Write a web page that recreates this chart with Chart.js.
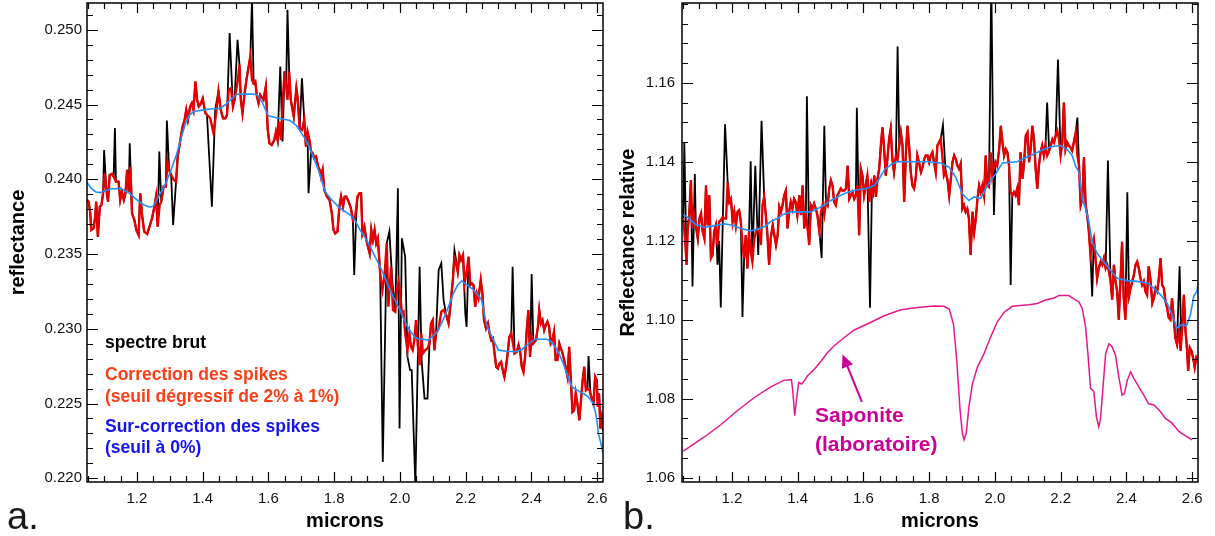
<!DOCTYPE html>
<html>
<head>
<meta charset="utf-8">
<script src="https://cdn.jsdelivr.net/npm/chart.js@4.4.1/dist/chart.umd.min.js"></script>
<style>
  html, body { margin: 0; padding: 0; background: #fff; }
  #wrap { position: relative; width: 1215px; height: 536px; overflow: hidden; }
  canvas { position: absolute; top: 0; }
  #panelA { left: 0; }
  #panelB { left: 607px; }
</style>
</head>
<body>
<div id="wrap">
  <canvas id="panelA" width="607" height="536"></canvas>
  <canvas id="panelB" width="608" height="536"></canvas>
</div>
<script>
// axes
const xTicks = [1.2, 1.4, 1.6, 1.8, 2.0, 2.2, 2.4, 2.6];
const yTicksA = [0.220, 0.225, 0.230, 0.235, 0.240, 0.245, 0.250];
const yTicksB = [1.06, 1.08, 1.10, 1.12, 1.14, 1.16];

// panneau a : [microns, reflectance]
const brutA = [
  [1.048,0.23862],[1.053,0.23850],[1.058,0.23772],[1.061,0.23661],[1.068,0.23672],[1.073,0.23750],[1.076,0.23850],[1.081,0.23616],[1.087,0.23817],[1.092,0.23828],
  [1.097,0.23906],[1.100,0.24196],[1.107,0.23929],[1.112,0.23850],[1.117,0.24029],[1.124,0.24036],[1.129,0.24018],[1.133,0.24342],[1.136,0.23984],[1.144,0.23984],
  [1.149,0.23862],[1.154,0.23917],[1.160,0.23862],[1.165,0.23906],[1.170,0.24063],[1.175,0.23917],[1.178,0.24241],[1.185,0.23772],[1.192,0.23728],[1.198,0.23661],
  [1.205,0.23627],[1.210,0.23906],[1.215,0.23772],[1.222,0.23650],[1.231,0.23634],[1.238,0.23683],[1.246,0.23739],[1.253,0.23817],[1.258,0.23884],[1.263,0.23683],
  [1.268,0.24185],[1.274,0.23850],[1.281,0.23951],[1.288,0.23951],[1.291,0.24393],[1.298,0.24063],[1.304,0.24029],[1.310,0.23694],[1.319,0.23984],[1.324,0.24152],
  [1.332,0.24263],[1.339,0.24353],[1.345,0.24397],[1.350,0.24464],[1.355,0.24397],[1.362,0.24487],[1.367,0.24509],[1.372,0.24464],[1.378,0.24654],[1.383,0.24531],
  [1.388,0.24487],[1.393,0.24500],[1.400,0.24540],[1.408,0.24442],[1.413,0.24431],[1.428,0.23817],[1.438,0.24464],[1.448,0.24587],[1.455,0.24464],[1.462,0.24408],
  [1.469,0.24408],[1.474,0.24431],[1.482,0.24978],[1.492,0.24487],[1.497,0.24531],[1.506,0.24933],[1.512,0.24766],[1.516,0.24531],[1.521,0.24442],[1.527,0.24565],
  [1.533,0.24665],[1.538,0.24732],[1.545,0.24821],[1.550,0.25200],[1.555,0.24643],[1.560,0.24654],[1.565,0.24554],[1.570,0.24509],[1.575,0.24565],[1.585,0.24531],
  [1.592,0.24620],[1.598,0.24330],[1.603,0.24241],[1.610,0.24230],[1.618,0.24263],[1.623,0.24319],[1.628,0.24263],[1.636,0.24754],[1.643,0.24252],[1.649,0.24721],
  [1.654,0.24620],[1.658,0.25134],[1.663,0.24721],[1.668,0.24531],[1.677,0.24420],[1.685,0.24609],[1.689,0.24542],[1.695,0.24342],[1.702,0.24676],[1.709,0.24397],
  [1.714,0.24219],[1.719,0.24319],[1.722,0.23906],[1.730,0.24185],[1.735,0.24174],[1.739,0.24141],[1.745,0.24152],[1.751,0.24085],[1.756,0.24063],[1.760,0.24018],
  [1.765,0.24063],[1.770,0.23929],[1.778,0.23884],[1.786,0.23862],[1.793,0.23772],[1.798,0.23661],[1.803,0.23638],[1.810,0.23650],[1.816,0.23817],[1.821,0.23884],
  [1.827,0.23817],[1.832,0.23884],[1.837,0.23884],[1.844,0.23850],[1.851,0.23806],[1.857,0.23728],[1.861,0.23359],[1.867,0.23750],[1.871,0.23884],[1.877,0.23906],
  [1.882,0.23906],[1.886,0.23638],[1.892,0.23683],[1.898,0.23594],[1.903,0.23549],[1.908,0.23504],[1.913,0.23661],[1.918,0.23594],[1.923,0.23661],[1.928,0.23571],
  [1.933,0.23605],[1.940,0.23371],[1.948,0.22109],[1.960,0.23571],[1.968,0.23650],[1.977,0.23315],[1.986,0.23114],[1.994,0.23940],[1.999,0.22333],[2.006,0.23605],
  [2.016,0.23482],[2.023,0.22813],[2.031,0.22723],[2.036,0.22723],[2.047,0.21950],[2.060,0.23415],[2.066,0.22790],[2.075,0.22533],[2.084,0.22533],[2.090,0.22902],
  [2.095,0.23036],[2.100,0.23058],[2.105,0.22857],[2.110,0.22969],[2.118,0.23393],[2.126,0.23438],[2.133,0.23192],[2.141,0.23092],[2.148,0.23036],[2.155,0.23181],
  [2.161,0.23326],[2.166,0.23527],[2.171,0.23460],[2.176,0.23382],[2.181,0.23493],[2.186,0.23460],[2.192,0.23493],[2.199,0.23103],[2.203,0.23013],[2.209,0.23482],
  [2.214,0.23292],[2.219,0.23304],[2.224,0.23292],[2.229,0.23147],[2.234,0.23237],[2.239,0.23203],[2.246,0.23326],[2.251,0.23237],[2.256,0.23058],[2.262,0.23002],
  [2.268,0.23036],[2.273,0.22969],[2.278,0.22924],[2.283,0.22935],[2.288,0.22835],[2.293,0.22746],[2.298,0.22734],[2.303,0.22768],[2.308,0.22779],[2.313,0.22723],
  [2.318,0.22679],[2.323,0.22746],[2.328,0.22835],[2.333,0.22946],[2.339,0.22969],[2.343,0.23415],[2.349,0.22835],[2.356,0.22846],[2.361,0.22891],[2.366,0.22846],
  [2.371,0.22746],[2.376,0.22712],[2.381,0.22813],[2.386,0.22991],[2.391,0.23125],[2.396,0.22813],[2.401,0.23366],[2.406,0.22902],[2.414,0.22924],[2.420,0.23013],
  [2.424,0.23125],[2.429,0.23036],[2.434,0.23058],[2.439,0.22991],[2.444,0.23025],[2.449,0.23047],[2.454,0.23013],[2.459,0.22902],[2.464,0.22924],[2.469,0.22980],
  [2.474,0.22790],[2.479,0.22790],[2.485,0.22902],[2.490,0.22868],[2.495,0.22835],[2.500,0.22790],[2.505,0.22734],[2.510,0.22679],[2.515,0.22879],[2.520,0.22668],
  [2.525,0.22444],[2.530,0.22455],[2.535,0.22567],[2.540,0.22500],[2.546,0.22388],[2.551,0.22522],[2.556,0.22656],[2.561,0.22746],[2.566,0.22589],[2.571,0.22600],
  [2.574,0.22817],[2.580,0.22560],[2.584,0.22533],[2.589,0.22500],[2.594,0.22679],[2.599,0.22656],[2.602,0.22478],[2.606,0.22567],[2.610,0.22333],[2.614,0.22400],
  [2.618,0.22321]
];

const corrA = [
  [1.048,0.23862],[1.053,0.23850],[1.058,0.23772],[1.061,0.23661],[1.068,0.23672],[1.073,0.23750],[1.076,0.23850],[1.081,0.23616],[1.087,0.23817],[1.092,0.23828],
  [1.097,0.23906],[1.102,0.24040],[1.107,0.23929],[1.112,0.23850],[1.117,0.24029],[1.124,0.24036],[1.129,0.24018],[1.136,0.23984],[1.144,0.23984],[1.149,0.23862],
  [1.154,0.23917],[1.160,0.23862],[1.165,0.23906],[1.170,0.24063],[1.175,0.23917],[1.180,0.24085],[1.185,0.23772],[1.192,0.23728],[1.198,0.23661],[1.205,0.23627],
  [1.210,0.23906],[1.215,0.23772],[1.222,0.23650],[1.231,0.23634],[1.238,0.23683],[1.246,0.23739],[1.253,0.23817],[1.258,0.23884],[1.263,0.23683],[1.269,0.23828],
  [1.274,0.23850],[1.281,0.23951],[1.288,0.23951],[1.293,0.24118],[1.298,0.24063],[1.304,0.24029],[1.312,0.23996],[1.319,0.23984],[1.324,0.24152],[1.332,0.24263],
  [1.339,0.24353],[1.345,0.24397],[1.350,0.24464],[1.355,0.24397],[1.362,0.24487],[1.367,0.24509],[1.372,0.24464],[1.378,0.24654],[1.383,0.24531],[1.388,0.24487],
  [1.393,0.24500],[1.400,0.24540],[1.408,0.24442],[1.413,0.24431],[1.418,0.24420],[1.423,0.24408],[1.433,0.24308],[1.441,0.24442],[1.448,0.24587],[1.455,0.24464],
  [1.462,0.24408],[1.469,0.24408],[1.474,0.24431],[1.479,0.24598],[1.486,0.24609],[1.492,0.24487],[1.497,0.24531],[1.502,0.24598],[1.507,0.24665],[1.512,0.24766],
  [1.516,0.24531],[1.521,0.24442],[1.527,0.24565],[1.533,0.24665],[1.538,0.24732],[1.545,0.24821],[1.550,0.24665],[1.555,0.24643],[1.560,0.24654],[1.565,0.24554],
  [1.570,0.24509],[1.575,0.24565],[1.585,0.24531],[1.592,0.24620],[1.598,0.24330],[1.603,0.24241],[1.610,0.24230],[1.618,0.24263],[1.623,0.24319],[1.628,0.24263],
  [1.633,0.24386],[1.638,0.24263],[1.644,0.24531],[1.649,0.24721],[1.654,0.24620],[1.658,0.24531],[1.663,0.24721],[1.668,0.24531],[1.677,0.24420],[1.685,0.24609],
  [1.689,0.24542],[1.695,0.24342],[1.702,0.24330],[1.709,0.24397],[1.714,0.24219],[1.719,0.24319],[1.725,0.24263],[1.730,0.24185],[1.735,0.24174],[1.739,0.24141],
  [1.745,0.24152],[1.751,0.24085],[1.756,0.24063],[1.760,0.24018],[1.765,0.24063],[1.770,0.23929],[1.778,0.23884],[1.786,0.23862],[1.793,0.23772],[1.798,0.23661],
  [1.803,0.23638],[1.810,0.23650],[1.816,0.23817],[1.821,0.23884],[1.827,0.23817],[1.832,0.23884],[1.837,0.23884],[1.844,0.23850],[1.851,0.23806],[1.857,0.23728],
  [1.864,0.23750],[1.871,0.23884],[1.877,0.23906],[1.882,0.23906],[1.886,0.23638],[1.892,0.23683],[1.898,0.23594],[1.903,0.23549],[1.908,0.23504],[1.913,0.23661],
  [1.918,0.23594],[1.923,0.23661],[1.928,0.23571],[1.933,0.23605],[1.940,0.23371],[1.947,0.23259],[1.953,0.23348],[1.960,0.23571],[1.965,0.23147],[1.973,0.23415],
  [1.979,0.23125],[1.986,0.23114],[1.991,0.23259],[1.996,0.23315],[2.001,0.23237],[2.006,0.23103],[2.011,0.23114],[2.016,0.22969],[2.023,0.22857],[2.029,0.22969],
  [2.034,0.22879],[2.039,0.22857],[2.044,0.22924],[2.049,0.23058],[2.054,0.22902],[2.060,0.22757],[2.065,0.22969],[2.070,0.22835],[2.077,0.22857],[2.084,0.22868],
  [2.090,0.22902],[2.095,0.23036],[2.100,0.23058],[2.105,0.22857],[2.110,0.22969],[2.118,0.23002],[2.126,0.23114],[2.133,0.23125],[2.141,0.23092],[2.148,0.23036],
  [2.155,0.23181],[2.161,0.23326],[2.166,0.23471],[2.171,0.23438],[2.176,0.23382],[2.181,0.23493],[2.186,0.23460],[2.192,0.23493],[2.197,0.23304],[2.204,0.23393],
  [2.209,0.23482],[2.214,0.23292],[2.219,0.23304],[2.224,0.23292],[2.229,0.23147],[2.234,0.23237],[2.239,0.23203],[2.246,0.23326],[2.251,0.23237],[2.256,0.23058],
  [2.262,0.23002],[2.268,0.23036],[2.273,0.22969],[2.278,0.22924],[2.283,0.22935],[2.288,0.22835],[2.293,0.22746],[2.298,0.22734],[2.303,0.22768],[2.308,0.22779],
  [2.313,0.22723],[2.318,0.22679],[2.323,0.22746],[2.328,0.22835],[2.333,0.22946],[2.339,0.22969],[2.344,0.22902],[2.349,0.22835],[2.356,0.22846],[2.361,0.22891],
  [2.366,0.22846],[2.371,0.22746],[2.376,0.22712],[2.381,0.22813],[2.386,0.22991],[2.391,0.23125],[2.396,0.22813],[2.401,0.22946],[2.406,0.22902],[2.414,0.22924],
  [2.420,0.23013],[2.424,0.23125],[2.429,0.23036],[2.434,0.23058],[2.439,0.22991],[2.444,0.23025],[2.449,0.23047],[2.454,0.23013],[2.459,0.22902],[2.464,0.22924],
  [2.469,0.22980],[2.474,0.22790],[2.479,0.22790],[2.485,0.22902],[2.490,0.22868],[2.495,0.22835],[2.500,0.22790],[2.505,0.22734],[2.510,0.22679],[2.515,0.22879],
  [2.520,0.22668],[2.525,0.22444],[2.530,0.22455],[2.535,0.22567],[2.540,0.22500],[2.546,0.22388],[2.551,0.22522],[2.556,0.22656],[2.561,0.22746],[2.566,0.22589],
  [2.571,0.22600],[2.577,0.22589],[2.584,0.22533],[2.589,0.22500],[2.594,0.22679],[2.599,0.22656],[2.602,0.22478],[2.606,0.22567],[2.610,0.22333],[2.614,0.22400],
  [2.618,0.22321]
];

const surA = [
  [1.048,0.23978],[1.060,0.23940],[1.075,0.23915],[1.089,0.23911],[1.105,0.23925],[1.119,0.23935],[1.149,0.23940],[1.175,0.23910],[1.200,0.23862],[1.220,0.23830],
  [1.240,0.23813],[1.250,0.23820],[1.265,0.23880],[1.290,0.23984],[1.305,0.24070],[1.320,0.24163],[1.335,0.24280],[1.348,0.24375],[1.360,0.24430],[1.373,0.24453],
  [1.403,0.24464],[1.423,0.24470],[1.453,0.24475],[1.470,0.24500],[1.484,0.24530],[1.504,0.24569],[1.545,0.24570],[1.565,0.24567],[1.580,0.24520],[1.590,0.24470],
  [1.600,0.24424],[1.626,0.24410],[1.666,0.24393],[1.685,0.24360],[1.697,0.24320],[1.712,0.24270],[1.727,0.24200],[1.740,0.24130],[1.752,0.24063],[1.765,0.23970],
  [1.773,0.23917],[1.788,0.23873],[1.818,0.23806],[1.849,0.23761],[1.865,0.23720],[1.879,0.23660],[1.894,0.23610],[1.910,0.23550],[1.925,0.23480],[1.940,0.23415],
  [1.955,0.23340],[1.970,0.23260],[1.985,0.23190],[2.001,0.23125],[2.013,0.23060],[2.026,0.23002],[2.040,0.22960],[2.052,0.22935],[2.070,0.22930],[2.087,0.22924],
  [2.100,0.22950],[2.113,0.22980],[2.125,0.23030],[2.138,0.23092],[2.150,0.23160],[2.163,0.23237],[2.175,0.23290],[2.188,0.23320],[2.200,0.23300],[2.224,0.23260],
  [2.240,0.23220],[2.249,0.23190],[2.257,0.23100],[2.264,0.23025],[2.275,0.22970],[2.285,0.22924],[2.300,0.22857],[2.325,0.22850],[2.350,0.22846],[2.370,0.22860],
  [2.386,0.22890],[2.411,0.22930],[2.447,0.22930],[2.460,0.22915],[2.472,0.22880],[2.485,0.22830],[2.497,0.22768],[2.510,0.22690],[2.523,0.22612],[2.535,0.22595],
  [2.548,0.22578],[2.560,0.22565],[2.573,0.22545],[2.585,0.22510],[2.594,0.22455],[2.600,0.22380],[2.604,0.22300],[2.612,0.22230],[2.618,0.22170]
];

// panneau b : [microns, reflectance relative]
const brutB = [
  [1.052,1.1256],[1.055,1.1449],[1.062,1.1139],[1.065,1.1223],[1.070,1.1265],[1.075,1.1353],[1.080,1.1084],[1.087,1.1369],[1.090,1.1239],[1.096,1.1206],
  [1.101,1.1256],[1.106,1.1269],[1.111,1.1223],[1.116,1.1206],[1.121,1.1340],[1.126,1.1239],[1.131,1.1315],[1.136,1.1156],[1.141,1.1164],[1.146,1.1223],
  [1.151,1.1239],[1.156,1.1139],[1.161,1.1200],[1.166,1.1031],[1.179,1.1495],[1.187,1.1348],[1.192,1.1298],[1.197,1.1306],[1.202,1.1248],[1.207,1.1273],
  [1.212,1.1239],[1.217,1.1273],[1.222,1.1277],[1.227,1.1248],[1.232,1.1007],[1.237,1.1156],[1.242,1.1214],[1.247,1.1130],[1.252,1.1223],[1.257,1.1401],
  [1.262,1.1147],[1.271,1.1390],[1.280,1.1164],[1.290,1.1504],[1.298,1.1311],[1.303,1.1265],[1.308,1.1214],[1.313,1.1139],[1.318,1.1206],[1.324,1.1239],
  [1.329,1.1214],[1.334,1.1189],[1.339,1.1214],[1.344,1.1286],[1.349,1.1273],[1.354,1.1290],[1.359,1.1315],[1.364,1.1327],[1.369,1.1231],[1.374,1.1273],
  [1.379,1.1298],[1.384,1.1281],[1.389,1.1306],[1.394,1.1298],[1.399,1.1265],[1.405,1.1315],[1.410,1.1265],[1.415,1.1340],[1.420,1.1231],[1.425,1.1273],
  [1.428,1.1566],[1.435,1.1189],[1.440,1.1290],[1.445,1.1281],[1.450,1.1294],[1.455,1.1281],[1.460,1.1265],[1.466,1.1223],[1.473,1.1156],[1.481,1.1491],
  [1.486,1.1298],[1.491,1.1290],[1.496,1.1332],[1.501,1.1353],[1.506,1.1340],[1.511,1.1298],[1.516,1.1290],[1.521,1.1315],[1.526,1.1323],[1.531,1.1332],
  [1.536,1.1327],[1.541,1.1327],[1.547,1.1332],[1.552,1.1390],[1.557,1.1306],[1.562,1.1315],[1.567,1.1323],[1.572,1.1306],[1.577,1.1315],[1.580,1.1537],
  [1.587,1.1214],[1.592,1.1382],[1.597,1.1365],[1.602,1.1315],[1.607,1.1340],[1.612,1.1365],[1.620,1.1030],[1.626,1.1340],[1.630,1.1323],[1.633,1.1365],
  [1.638,1.1311],[1.643,1.1357],[1.648,1.1382],[1.653,1.1441],[1.658,1.1487],[1.663,1.1432],[1.668,1.1365],[1.673,1.1407],[1.678,1.1457],[1.683,1.1483],
  [1.688,1.1407],[1.693,1.1374],[1.699,1.1416],[1.704,1.1692],[1.709,1.1441],[1.714,1.1474],[1.719,1.1441],[1.724,1.1298],[1.729,1.1416],[1.734,1.1491],
  [1.739,1.1441],[1.744,1.1374],[1.749,1.1340],[1.754,1.1332],[1.759,1.1357],[1.764,1.1416],[1.769,1.1399],[1.775,1.1374],[1.780,1.1386],[1.785,1.1407],
  [1.790,1.1416],[1.795,1.1416],[1.800,1.1399],[1.805,1.1416],[1.810,1.1424],[1.815,1.1399],[1.820,1.1374],[1.825,1.1441],[1.830,1.1449],[1.835,1.1457],
  [1.842,1.1493],[1.850,1.1374],[1.856,1.1353],[1.861,1.1315],[1.866,1.1357],[1.871,1.1399],[1.876,1.1416],[1.881,1.1407],[1.886,1.1390],[1.891,1.1382],
  [1.896,1.1395],[1.901,1.1281],[1.906,1.1290],[1.911,1.1273],[1.916,1.1281],[1.921,1.1256],[1.926,1.1164],[1.932,1.1273],[1.937,1.1223],[1.942,1.1256],
  [1.947,1.1306],[1.952,1.1340],[1.957,1.1323],[1.962,1.1340],[1.967,1.1315],[1.972,1.1416],[1.977,1.1340],[1.982,1.1336],[1.989,1.1860],[1.997,1.1265],
  [2.002,1.1399],[2.007,1.1390],[2.013,1.1432],[2.018,1.1491],[2.023,1.1449],[2.028,1.1416],[2.033,1.1432],[2.038,1.1424],[2.043,1.1390],[2.048,1.1088],
  [2.053,1.1315],[2.058,1.1323],[2.063,1.1315],[2.068,1.1332],[2.073,1.1290],[2.078,1.1424],[2.084,1.1357],[2.089,1.1399],[2.094,1.1466],[2.099,1.1474],
  [2.104,1.1399],[2.109,1.1432],[2.114,1.1491],[2.119,1.1457],[2.124,1.1382],[2.129,1.1332],[2.134,1.1390],[2.139,1.1424],[2.144,1.1441],[2.149,1.1416],
  [2.154,1.1441],[2.159,1.1550],[2.165,1.1428],[2.170,1.1441],[2.175,1.1457],[2.180,1.1449],[2.185,1.1466],[2.192,1.1659],[2.200,1.1416],[2.205,1.1449],
  [2.210,1.1550],[2.215,1.1432],[2.220,1.1449],[2.225,1.1441],[2.230,1.1436],[2.235,1.1428],[2.240,1.1449],[2.246,1.1474],[2.251,1.1512],[2.256,1.1390],
  [2.261,1.1290],[2.266,1.1306],[2.271,1.1411],[2.276,1.1290],[2.281,1.1265],[2.286,1.1223],[2.291,1.1164],[2.296,1.1059],[2.301,1.1206],[2.306,1.1156],
  [2.311,1.1105],[2.316,1.1130],[2.322,1.1147],[2.327,1.1139],[2.332,1.1156],[2.337,1.1130],[2.344,1.1403],[2.352,1.1097],[2.357,1.1051],[2.362,1.1139],
  [2.367,1.1097],[2.372,1.1072],[2.377,1.1000],[2.382,1.1097],[2.387,1.1197],[2.392,1.1055],[2.397,1.1000],[2.403,1.1323],[2.408,1.1059],[2.413,1.1080],
  [2.418,1.1097],[2.423,1.1114],[2.428,1.1139],[2.433,1.1147],[2.438,1.1130],[2.443,1.1105],[2.448,1.1088],[2.453,1.1097],[2.458,1.1072],[2.463,1.1063],
  [2.468,1.1135],[2.473,1.1105],[2.479,1.1042],[2.484,1.1055],[2.489,1.1080],[2.494,1.1072],[2.499,1.1105],[2.504,1.1156],[2.509,1.1088],[2.514,1.1080],
  [2.519,1.1047],[2.524,1.1030],[2.529,1.1005],[2.534,1.1000],[2.539,1.1055],[2.544,1.1005],[2.549,1.0954],[2.554,1.0938],[2.562,1.1135],[2.567,1.0950],
  [2.570,1.0980],[2.575,1.1063],[2.580,1.0971],[2.585,1.0921],[2.588,1.0870],[2.593,1.0929],[2.598,1.0921],[2.603,1.0904],[2.608,1.0879],[2.613,1.0904],
  [2.618,1.0896]
];

const corrB = [
  [1.052,1.1256],[1.057,1.1206],[1.062,1.1139],[1.065,1.1223],[1.070,1.1265],[1.075,1.1353],[1.080,1.1231],[1.085,1.1265],[1.090,1.1239],[1.096,1.1206],
  [1.101,1.1256],[1.106,1.1269],[1.111,1.1223],[1.116,1.1206],[1.121,1.1340],[1.126,1.1239],[1.131,1.1315],[1.136,1.1156],[1.141,1.1164],[1.146,1.1223],
  [1.151,1.1239],[1.156,1.1189],[1.161,1.1248],[1.166,1.1252],[1.172,1.1260],[1.177,1.1256],[1.182,1.1256],[1.187,1.1348],[1.192,1.1298],[1.197,1.1306],
  [1.202,1.1248],[1.207,1.1273],[1.212,1.1239],[1.217,1.1273],[1.222,1.1277],[1.227,1.1248],[1.232,1.1189],[1.237,1.1156],[1.242,1.1214],[1.247,1.1130],
  [1.252,1.1223],[1.257,1.1172],[1.262,1.1147],[1.268,1.1206],[1.273,1.1223],[1.278,1.1231],[1.283,1.1223],[1.288,1.1189],[1.293,1.1290],[1.298,1.1311],
  [1.303,1.1265],[1.308,1.1214],[1.313,1.1139],[1.318,1.1206],[1.324,1.1239],[1.329,1.1214],[1.334,1.1189],[1.339,1.1214],[1.344,1.1286],[1.349,1.1273],
  [1.354,1.1290],[1.359,1.1315],[1.364,1.1327],[1.369,1.1231],[1.374,1.1273],[1.379,1.1298],[1.384,1.1281],[1.389,1.1306],[1.394,1.1298],[1.399,1.1265],
  [1.405,1.1315],[1.410,1.1265],[1.415,1.1340],[1.420,1.1231],[1.425,1.1273],[1.430,1.1231],[1.435,1.1189],[1.440,1.1290],[1.445,1.1281],[1.450,1.1294],
  [1.455,1.1281],[1.460,1.1265],[1.466,1.1223],[1.471,1.1273],[1.476,1.1290],[1.481,1.1265],[1.486,1.1298],[1.491,1.1290],[1.496,1.1332],[1.501,1.1353],
  [1.506,1.1340],[1.511,1.1298],[1.516,1.1290],[1.521,1.1315],[1.526,1.1323],[1.531,1.1332],[1.536,1.1327],[1.541,1.1327],[1.547,1.1332],[1.552,1.1390],
  [1.557,1.1306],[1.562,1.1315],[1.567,1.1323],[1.572,1.1306],[1.577,1.1315],[1.582,1.1340],[1.587,1.1214],[1.592,1.1382],[1.597,1.1365],[1.602,1.1315],
  [1.607,1.1340],[1.612,1.1365],[1.618,1.1298],[1.623,1.1340],[1.628,1.1323],[1.633,1.1365],[1.638,1.1311],[1.643,1.1357],[1.648,1.1382],[1.653,1.1441],
  [1.658,1.1487],[1.663,1.1432],[1.668,1.1365],[1.673,1.1407],[1.678,1.1457],[1.683,1.1483],[1.688,1.1407],[1.693,1.1374],[1.699,1.1416],[1.704,1.1407],
  [1.709,1.1441],[1.714,1.1474],[1.719,1.1441],[1.724,1.1298],[1.729,1.1416],[1.734,1.1491],[1.739,1.1441],[1.744,1.1374],[1.749,1.1340],[1.754,1.1332],
  [1.759,1.1357],[1.764,1.1416],[1.769,1.1399],[1.775,1.1374],[1.780,1.1386],[1.785,1.1407],[1.790,1.1416],[1.795,1.1416],[1.800,1.1399],[1.805,1.1416],
  [1.810,1.1424],[1.815,1.1399],[1.820,1.1374],[1.825,1.1441],[1.830,1.1449],[1.835,1.1457],[1.840,1.1416],[1.845,1.1365],[1.850,1.1374],[1.856,1.1353],
  [1.861,1.1315],[1.866,1.1357],[1.871,1.1399],[1.876,1.1416],[1.881,1.1407],[1.886,1.1390],[1.891,1.1382],[1.896,1.1395],[1.901,1.1281],[1.906,1.1290],
  [1.911,1.1273],[1.916,1.1281],[1.921,1.1256],[1.926,1.1164],[1.932,1.1273],[1.937,1.1223],[1.942,1.1256],[1.947,1.1306],[1.952,1.1340],[1.957,1.1323],
  [1.962,1.1340],[1.967,1.1315],[1.972,1.1416],[1.977,1.1340],[1.982,1.1336],[1.987,1.1424],[1.992,1.1365],[1.997,1.1390],[2.002,1.1399],[2.007,1.1390],
  [2.013,1.1432],[2.018,1.1491],[2.023,1.1449],[2.028,1.1416],[2.033,1.1432],[2.038,1.1424],[2.043,1.1390],[2.048,1.1323],[2.053,1.1315],[2.058,1.1323],
  [2.063,1.1315],[2.068,1.1332],[2.073,1.1290],[2.078,1.1424],[2.084,1.1357],[2.089,1.1399],[2.094,1.1466],[2.099,1.1474],[2.104,1.1399],[2.109,1.1432],
  [2.114,1.1491],[2.119,1.1457],[2.124,1.1382],[2.129,1.1332],[2.134,1.1390],[2.139,1.1424],[2.144,1.1441],[2.149,1.1416],[2.154,1.1441],[2.159,1.1416],
  [2.165,1.1428],[2.170,1.1441],[2.175,1.1457],[2.180,1.1449],[2.185,1.1466],[2.190,1.1478],[2.195,1.1457],[2.200,1.1416],[2.205,1.1449],[2.210,1.1550],
  [2.215,1.1432],[2.220,1.1449],[2.225,1.1441],[2.230,1.1436],[2.235,1.1428],[2.240,1.1449],[2.246,1.1474],[2.251,1.1416],[2.256,1.1390],[2.261,1.1290],
  [2.266,1.1306],[2.271,1.1411],[2.276,1.1290],[2.281,1.1265],[2.286,1.1223],[2.291,1.1164],[2.296,1.1189],[2.301,1.1206],[2.306,1.1156],[2.311,1.1105],
  [2.316,1.1130],[2.322,1.1147],[2.327,1.1139],[2.332,1.1156],[2.337,1.1130],[2.342,1.1139],[2.347,1.1122],[2.352,1.1097],[2.357,1.1051],[2.362,1.1139],
  [2.367,1.1097],[2.372,1.1072],[2.377,1.1000],[2.382,1.1097],[2.387,1.1197],[2.392,1.1055],[2.397,1.1000],[2.403,1.1097],[2.408,1.1059],[2.413,1.1080],
  [2.418,1.1097],[2.423,1.1114],[2.428,1.1139],[2.433,1.1147],[2.438,1.1130],[2.443,1.1105],[2.448,1.1088],[2.453,1.1097],[2.458,1.1072],[2.463,1.1063],
  [2.468,1.1135],[2.473,1.1105],[2.479,1.1042],[2.484,1.1055],[2.489,1.1080],[2.494,1.1072],[2.499,1.1105],[2.504,1.1156],[2.509,1.1088],[2.514,1.1080],
  [2.519,1.1047],[2.524,1.1030],[2.529,1.1005],[2.534,1.1000],[2.539,1.1055],[2.544,1.1005],[2.549,1.0954],[2.554,1.0938],[2.560,1.0971],[2.565,1.0921],
  [2.570,1.0980],[2.575,1.1063],[2.580,1.0971],[2.585,1.0921],[2.588,1.0870],[2.593,1.0929],[2.598,1.0921],[2.603,1.0904],[2.608,1.0879],[2.613,1.0904],
  [2.618,1.0896]
];

const surB = [
  [1.052,1.1266],[1.065,1.1260],[1.090,1.1241],[1.116,1.1234],[1.141,1.1237],[1.177,1.1243],[1.202,1.1239],[1.227,1.1231],[1.258,1.1225],[1.278,1.1229],
  [1.303,1.1237],[1.318,1.1249],[1.339,1.1256],[1.354,1.1266],[1.379,1.1273],[1.410,1.1273],[1.440,1.1273],[1.460,1.1281],[1.481,1.1290],[1.501,1.1302],
  [1.526,1.1313],[1.552,1.1323],[1.582,1.1329],[1.612,1.1333],[1.633,1.1340],[1.648,1.1357],[1.663,1.1378],[1.673,1.1386],[1.688,1.1395],[1.704,1.1400],
  [1.734,1.1400],[1.764,1.1400],[1.795,1.1400],[1.835,1.1397],[1.861,1.1386],[1.881,1.1361],[1.901,1.1319],[1.921,1.1302],[1.937,1.1311],[1.957,1.1307],
  [1.977,1.1340],[2.002,1.1369],[2.023,1.1397],[2.068,1.1400],[2.089,1.1409],[2.109,1.1416],[2.139,1.1428],[2.170,1.1438],[2.200,1.1441],[2.220,1.1431],
  [2.235,1.1416],[2.245,1.1390],[2.256,1.1374],[2.266,1.1306],[2.276,1.1281],[2.286,1.1248],[2.296,1.1197],[2.311,1.1168],[2.327,1.1151],[2.347,1.1130],
  [2.372,1.1105],[2.402,1.1099],[2.433,1.1097],[2.463,1.1093],[2.484,1.1080],[2.504,1.1063],[2.524,1.1042],[2.539,1.1013],[2.554,1.0979],[2.570,1.0988],
  [2.583,1.0984],[2.595,1.1013],[2.605,1.1059],[2.615,1.1072],[2.620,1.1105]
];

const saponiteB = [
  [1.052,1.0667],[1.116,1.0703],[1.166,1.0734],[1.217,1.0770],[1.268,1.0803],[1.318,1.0830],[1.359,1.0847],[1.381,1.0848],[1.385,1.0820],[1.391,1.0757],
  [1.397,1.0803],[1.403,1.0841],[1.412,1.0837],[1.420,1.0845],[1.430,1.0858],[1.450,1.0874],[1.471,1.0895],[1.491,1.0917],[1.511,1.0934],[1.542,1.0955],
  [1.572,1.0974],[1.612,1.0989],[1.663,1.1010],[1.714,1.1025],[1.764,1.1031],[1.815,1.1035],[1.845,1.1034],[1.861,1.1027],[1.874,1.0989],[1.884,1.0897],
  [1.894,1.0771],[1.901,1.0713],[1.906,1.0696],[1.913,1.0713],[1.921,1.0780],[1.932,1.0839],[1.947,1.0880],[1.967,1.0914],[1.987,1.0956],[2.007,1.0994],
  [2.028,1.1019],[2.053,1.1034],[2.078,1.1036],[2.104,1.1038],[2.129,1.1041],[2.154,1.1050],[2.180,1.1055],[2.195,1.1061],[2.225,1.1061],[2.240,1.1053],
  [2.256,1.1045],[2.266,1.1028],[2.276,1.0981],[2.283,1.0914],[2.291,1.0826],[2.301,1.0818],[2.309,1.0754],[2.316,1.0729],[2.321,1.0746],[2.329,1.0830],
  [2.337,1.0914],[2.347,1.0939],[2.357,1.0931],[2.367,1.0910],[2.377,1.0855],[2.387,1.0809],[2.394,1.0813],[2.403,1.0847],[2.413,1.0868],[2.423,1.0851],
  [2.438,1.0830],[2.453,1.0809],[2.468,1.0787],[2.484,1.0784],[2.504,1.0767],[2.519,1.0750],[2.539,1.0738],[2.560,1.0717],[2.580,1.0706],[2.600,1.0696]
];

const legendeA = [
  { text: 'spectre brut', color: '#000000', y: 343 },
  { text: 'Correction des spikes', color: 'rgb(255,60,20)', y: 375 },
  { text: '(seuil dégressif de 2% à 1%)', color: 'rgb(255,60,20)', y: 397 },
  { text: 'Sur-correction des spikes', color: 'rgb(20,20,240)', y: 427 },
  { text: '(seuil à 0%)', color: 'rgb(20,20,240)', y: 448 }
];
const fleche = { from: [1.5952, 1.0792], to: [1.5365, 1.0912] };

Chart.defaults.font.family = '"Liberation Sans", Arial, Helvetica, sans-serif';
Chart.defaults.color = '#111';

const pts = arr => arr.map(p => ({ x: p[0], y: p[1] }));

function range(a, b, step) {
  let out = [];
  for (let v = a; v <= b + step / 10; v += step) out.push(Math.round(v * 10000) / 10000);
  return out;
}

// cadre + graduations vers l'intérieur, sur les 4 côtés
const cadre = {
  id: 'cadre',
  afterDatasetsDraw(chart, args, opts) {
    const ctx = chart.ctx;
    const { left, right, top, bottom } = chart.chartArea;
    const xs = chart.scales.x, ys = chart.scales.y;
    const isMajor = (list, v) => list.some(m => Math.abs(m - v) < 1e-6);
    ctx.save();
    ctx.strokeStyle = '#000';
    ctx.lineWidth = 1.2;
    ctx.beginPath();
    for (let v of opts.xMinor) {
      if (v < xs.min || v > xs.max) continue;
      let px = Math.round(xs.getPixelForValue(v)) + 0.5;
      let len = isMajor(xTicks, v) ? 10 : 6;
      ctx.moveTo(px, bottom); ctx.lineTo(px, bottom - len);
      ctx.moveTo(px, top); ctx.lineTo(px, top + len);
    }
    for (let v of opts.yMinor) {
      if (v < ys.min || v > ys.max) continue;
      let py = Math.round(ys.getPixelForValue(v)) + 0.5;
      let len = isMajor(opts.yMajor, v) ? 11 : 6;
      ctx.moveTo(left, py); ctx.lineTo(left + len, py);
      ctx.moveTo(right, py); ctx.lineTo(right - len, py);
    }
    ctx.stroke();
    ctx.lineWidth = 1.5;
    ctx.strokeRect(left, top, right - left, bottom - top);
    ctx.restore();
  }
};

const notes = {
  id: 'notes',
  afterDraw(chart, args, opts) {
    const ctx = chart.ctx;
    ctx.save();
    if (opts.legende) {
      ctx.font = 'bold 17.5px "Liberation Sans", Arial, sans-serif';
      ctx.textBaseline = 'middle';
      ctx.textAlign = 'left';
      for (let l of opts.legende) {
        ctx.fillStyle = l.color;
        ctx.fillText(l.text, 105, l.y);
      }
    }
    if (opts.saponite) {
      const xs = chart.scales.x, ys = chart.scales.y;
      const c = 'rgb(204,0,153)';
      ctx.fillStyle = c;
      ctx.font = 'bold 21px "Liberation Sans", Arial, sans-serif';
      ctx.textBaseline = 'middle';
      ctx.textAlign = 'left';
      ctx.fillText('Saponite', 208, 416);
      ctx.fillText('(laboratoire)', 208, 445);
      const x0 = xs.getPixelForValue(fleche.from[0]), y0 = ys.getPixelForValue(fleche.from[1]);
      const x1 = xs.getPixelForValue(fleche.to[0]), y1 = ys.getPixelForValue(fleche.to[1]);
      const ang = Math.atan2(y1 - y0, x1 - x0);
      ctx.strokeStyle = c;
      ctx.lineWidth = 2;
      ctx.beginPath();
      ctx.moveTo(x0, y0);
      ctx.lineTo(x1 - 10 * Math.cos(ang), y1 - 10 * Math.sin(ang));
      ctx.stroke();
      ctx.beginPath();
      ctx.moveTo(x1, y1);
      ctx.lineTo(x1 - 13 * Math.cos(ang) + 6 * Math.sin(ang), y1 - 13 * Math.sin(ang) - 6 * Math.cos(ang));
      ctx.lineTo(x1 - 13 * Math.cos(ang) - 6 * Math.sin(ang), y1 - 13 * Math.sin(ang) + 6 * Math.cos(ang));
      ctx.closePath();
      ctx.fill();
    }
    ctx.fillStyle = '#1a1a1a';
    ctx.font = '38px "Liberation Sans", Arial, sans-serif';
    ctx.textBaseline = 'alphabetic';
    ctx.textAlign = 'left';
    ctx.fillText(opts.lettre, opts.lettreX, 529);
    ctx.restore();
  }
};

function makeScales(yMin, yMax, yTicks, yDigits, yTitle, yWidth, yTitlePad, yLabelPad) {
  return {
    x: {
      type: 'linear', min: 1.048, max: 2.618,
      afterBuildTicks: s => { s.ticks = xTicks.map(v => ({ value: v })); },
      afterFit: s => { s.height = 54; s.paddingLeft = 0; s.paddingRight = 0; },
      grid: { display: false, drawTicks: false },
      border: { display: false },
      ticks: { padding: 8, autoSkip: false, maxRotation: 0, font: { size: 15 }, color: '#111',
               callback: v => v.toFixed(1) },
      title: { display: true, text: 'microns', color: '#000',
               font: { size: 20, weight: 'bold' }, padding: { top: 0, bottom: 3 } }
    },
    y: {
      type: 'linear', min: yMin, max: yMax,
      afterBuildTicks: s => { s.ticks = yTicks.map(v => ({ value: v })); },
      afterFit: s => { s.width = yWidth; s.paddingTop = 0; s.paddingBottom = 0; },
      grid: { display: false, drawTicks: false },
      border: { display: false },
      ticks: { padding: yLabelPad, autoSkip: false, font: { size: 15 }, color: '#111',
               callback: v => v.toFixed(yDigits) },
      title: { display: true, text: yTitle, color: '#000',
               font: { size: 20, weight: 'bold' }, padding: { top: yTitlePad, bottom: 0 } }
    }
  };
}

function ligne(data, color, width) {
  return { data: pts(data), borderColor: color, borderWidth: width, pointRadius: 0,
           tension: 0, fill: false };
}

new Chart(document.getElementById('panelA'), {
  type: 'line',
  data: {
    datasets: [
      ligne(surA, 'rgb(30,144,255)', 1.6),
      ligne(corrA, 'rgb(230,0,0)', 2.4),
      ligne(brutA, '#000000', 1.8)
    ]
  },
  options: {
    responsive: false, animation: false, devicePixelRatio: 1,
    layout: { padding: { top: 3, right: 4, left: 0, bottom: 0 } },
    plugins: {
      legend: { display: false }, tooltip: { enabled: false },
      cadre: { xMinor: range(1.05, 2.6, 0.05), yMinor: range(0.220, 0.251, 0.001), yMajor: yTicksA },
      notes: { legende: legendeA, lettre: 'a.', lettreX: 7 }
    },
    scales: makeScales(0.21975, 0.25179, yTicksA, 3, 'reflectance', 87, 6, 5)
  },
  plugins: [cadre, notes]
});

new Chart(document.getElementById('panelB'), {
  type: 'line',
  data: {
    datasets: [
      ligne(surB, 'rgb(30,144,255)', 1.6),
      ligne(corrB, 'rgb(230,0,0)', 2.4),
      ligne(brutB, '#000000', 1.8),
      ligne(saponiteB, 'rgb(230,25,140)', 1.5)
    ]
  },
  options: {
    responsive: false, animation: false, devicePixelRatio: 1,
    layout: { padding: { top: 3, right: 17, left: 0, bottom: 0 } },
    plugins: {
      legend: { display: false }, tooltip: { enabled: false },
      cadre: { xMinor: range(1.05, 2.6, 0.05), yMinor: range(1.06, 1.18, 0.005), yMajor: yTicksB },
      notes: { saponite: true, lettre: 'b.', lettreX: 16 }
    },
    scales: makeScales(1.0589, 1.1802, yTicksB, 2, 'Reflectance relative', 75, 9, 7)
  },
  plugins: [cadre, notes]
});
</script>
</body>
</html>
